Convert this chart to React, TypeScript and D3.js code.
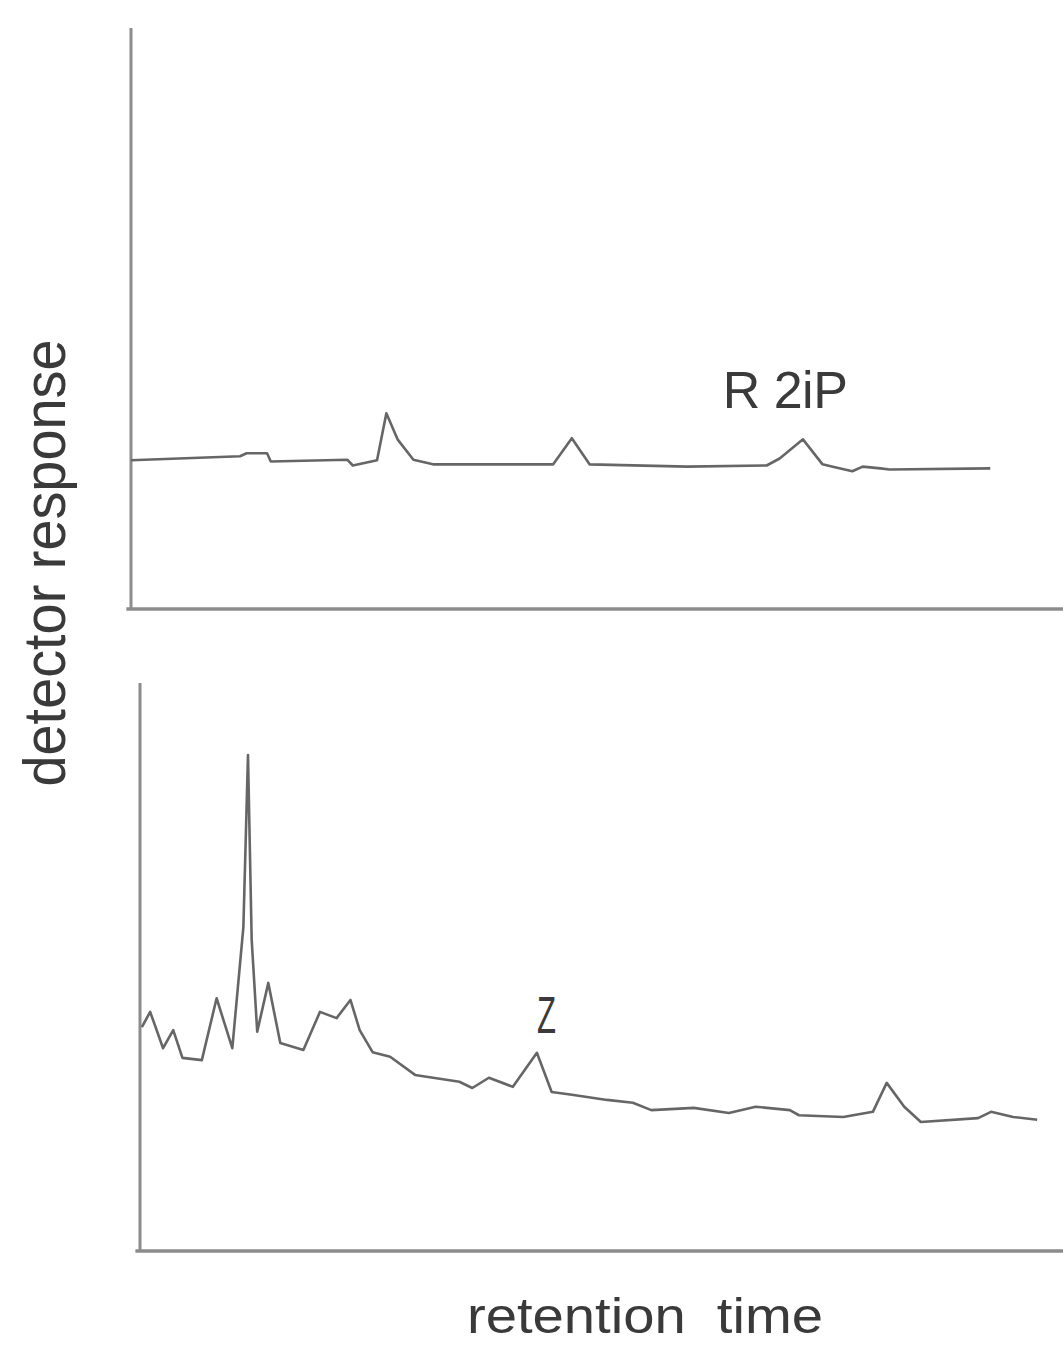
import { useRef, useEffect } from 'react';
import * as d3 from 'd3';

// retention time (0-100) vs detector response (0-100)
const topTime = [0, 11.7, 12.4, 14.6, 15.0, 23.2, 23.8, 26.4, 27.4, 28.6, 30.3, 32.4, 45.3, 47.3, 49.2, 59.7, 68.2, 69.6, 72.1, 74.2, 75.3, 77.4, 78.5, 80.4, 81.4, 92.2];
const topResp = [25.6, 26.3, 26.8, 26.8, 25.4, 25.7, 24.7, 25.6, 33.7, 29.2, 25.7, 24.9, 24.9, 29.4, 24.9, 24.5, 24.7, 25.9, 29.2, 24.9, 24.5, 23.7, 24.5, 24.2, 24.0, 24.2];

const bottomTime = [0.2, 1.1, 2.5, 3.6, 4.6, 6.7, 8.3, 10.0, 11.2, 11.7, 12.1, 12.7, 13.9, 15.2, 17.7, 19.5, 21.3, 22.8, 23.8, 25.2, 27.1, 29.8, 34.6, 36.0, 37.8, 40.4, 43.0, 44.6, 46.8, 50.6, 53.4, 55.4, 60.0, 63.8, 66.7, 70.4, 71.4, 76.2, 79.4, 80.9, 82.8, 84.6, 90.8, 92.2, 94.6, 97.2];
const bottomResp = [39.4, 42.1, 35.7, 38.9, 34.0, 33.6, 44.5, 35.7, 57.0, 87.3, 54.8, 38.6, 47.2, 36.6, 35.4, 42.1, 41.0, 44.2, 38.9, 35.0, 34.2, 31.0, 29.8, 28.7, 30.5, 28.9, 34.9, 28.0, 27.5, 26.6, 26.1, 24.8, 25.2, 24.3, 25.4, 24.8, 23.9, 23.6, 24.5, 29.6, 25.4, 22.7, 23.4, 24.5, 23.6, 23.1];

const peakLabels = [
  { panel: 0, text: 'R 2iP', time: 63.5, resp: 34.6 },
  { panel: 1, text: 'Z', time: 43.0, resp: 38.4 },
];

const yLabel = 'detector response';
const xLabel = 'retention time';

const W = 1063;
const H = 1345;

export default function App() {
  const svgRef = useRef<SVGSVGElement | null>(null);

  useEffect(() => {
    if (!svgRef.current) return;
    const svg = d3.select(svgRef.current);
    svg.selectAll('*').remove();

    const panels = [
      { left: 131, right: 1063, top: 28, bottom: 609, time: topTime, resp: topResp },
      { left: 140, right: 1063, top: 683, bottom: 1251, time: bottomTime, resp: bottomResp },
    ];

    const axisColor = '#8c8c8c';
    const traceColor = '#666';
    const textColor = '#3a3a3a';
    const font = 'Liberation Sans, Arial, sans-serif';

    panels.forEach((p, i) => {
      const x = d3.scaleLinear().domain([0, 100]).range([p.left, p.right]);
      const y = d3.scaleLinear().domain([0, 100]).range([p.bottom, p.top]);
      const g = svg.append('g');

      // axes, drawn as plain lines (no ticks on the original)
      g.append('line')
        .attr('x1', x(0)).attr('x2', x(0))
        .attr('y1', y(100)).attr('y2', y(0))
        .attr('stroke', axisColor).attr('stroke-width', 3);
      g.append('line')
        .attr('x1', x(-0.5)).attr('x2', W)
        .attr('y1', y(0)).attr('y2', y(0))
        .attr('stroke', axisColor).attr('stroke-width', 3.5);

      const pts = p.time.map((t, k) => [t, p.resp[k]] as [number, number]);
      const line = d3.line<[number, number]>()
        .x((d) => x(d[0]))
        .y((d) => y(d[1]));

      g.append('path')
        .datum(pts)
        .attr('fill', 'none')
        .attr('stroke', traceColor)
        .attr('stroke-width', 2.6)
        .attr('stroke-linejoin', 'round')
        .attr('d', line);

      peakLabels.filter((l) => l.panel === i).forEach((l) => {
        const t = g.append('text')
          .attr('x', x(l.time))
          .attr('y', y(l.resp))
          .attr('fill', textColor)
          .attr('font-family', font)
          .attr('font-size', 52)
          .text(l.text);
        if (l.text === 'Z') {
          t.attr('textLength', 19).attr('lengthAdjust', 'spacingAndGlyphs');
        } else {
          t.attr('textLength', 125);
        }
      });
    });

    svg.append('text')
      .attr('transform', 'translate(65,563) rotate(-90)')
      .attr('text-anchor', 'middle')
      .attr('fill', textColor)
      .attr('font-family', font)
      .attr('font-size', 60)
      .attr('textLength', 447)
      .attr('lengthAdjust', 'spacingAndGlyphs')
      .text(yLabel);

    svg.append('text')
      .attr('x', 467)
      .attr('y', 1333)
      .attr('fill', textColor)
      .attr('font-family', font)
      .attr('font-size', 50)
      .attr('textLength', 356)
      .attr('lengthAdjust', 'spacingAndGlyphs')
      .text(xLabel.replace(' ', '\u00a0\u00a0'));
  }, []);

  return (
    <div style={{ position: 'absolute', left: 0, top: 0 }}>
      <svg ref={svgRef} width={W} height={H} style={{ display: 'block', background: '#fff' }} />
    </div>
  );
}
